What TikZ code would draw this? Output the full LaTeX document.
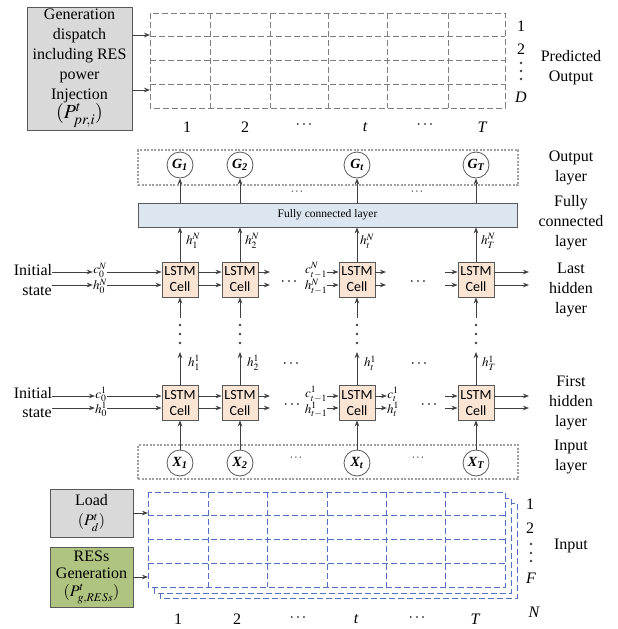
\documentclass[tikz,border=0pt]{standalone}
\usepackage{mathptmx}
\usepackage{fontspec}
\setmainfont{Liberation Serif}
\newfontfamily\cellfont{Carlito}
\usetikzlibrary{arrows.meta}
\definecolor{arrc}{HTML}{404040}
\definecolor{boxc}{HTML}{595959}
\definecolor{grayfill}{HTML}{D9D9D9}
\definecolor{greenfill}{RGB}{176,196,130}
\definecolor{peach}{RGB}{250,228,212}
\definecolor{fcfill}{RGB}{220,230,241}
\definecolor{tgray}{HTML}{7F7F7F}
\definecolor{lgray}{HTML}{A0A0A0}
\definecolor{blu}{RGB}{84,114,196}
\begin{document}
\begin{tikzpicture}[x=1pt,y=-1pt,
  arr/.style={draw=arrc, line width=0.9pt, -{Stealth[length=6pt,width=4.6pt]}},
  txt/.style={font=\fontsize{16}{20}\selectfont, align=center, inner sep=0pt},
  lbl/.style={font=\fontsize{13}{14}\selectfont, inner sep=0pt},
  pair/.style={font=\fontsize{13}{13}\selectfont, inner sep=0pt, align=center},
  small/.style={font=\fontsize{11.5}{13}\selectfont, inner sep=0pt},
  bigdots/.style={font=\fontsize{16}{16}\selectfont, inner sep=0pt},
  cellbox/.style={draw=boxc, fill=peach, line width=0.8pt, minimum width=36pt, minimum height=35pt, inner sep=0pt, align=center, font=\cellfont\fontsize{14}{16}\selectfont},
  circ/.style={circle, draw=boxc, line width=0.8pt, minimum size=26pt, inner sep=0pt, fill=white, font=\fontsize{14}{16}\selectfont\bfseries\itshape},
  layerbox/.style={draw=lgray, line width=1.4pt, dash pattern=on 2pt off 1.5pt, inner sep=0pt},
  topgrid/.style={draw=tgray, line width=0.9pt, dash pattern=on 6pt off 3pt},
  ingrid/.style={draw=blu, line width=0.9pt, dash pattern=on 6pt off 3pt},
  dotc/.style={circle, fill=arrc, inner sep=0pt, minimum size=2.8pt},
  srcbox/.style={draw=boxc, line width=0.9pt, inner sep=0pt, align=center, font=\fontsize{16}{20}\selectfont}
]
\useasboundingbox (0,0) rectangle (618,629);

% ---------- top: predicted output ----------
\node[srcbox, fill=grayfill, minimum width=105pt, minimum height=123pt] (gen) at (79.5,68.5)
  {Generation\\dispatch\\including RES\\power\\Injection\\[-1pt]{\fontsize{20}{20}\selectfont$(P^{t}_{pr,i})$}};
\draw[topgrid] (150,13) rectangle (505,108);
\foreach \y in {36.75,60.5,84.25} \draw[topgrid] (150,\y) -- (505,\y);
\foreach \x in {210,270,328,387,448} \draw[topgrid] (\x,13) -- (\x,108);
\coordinate (pg1) at (150,35);
\coordinate (pg2) at (150,90);
\draw[arr] (gen.east |- pg1) -- (pg1);
\draw[arr] (gen.east |- pg2) -- (pg2);
\node[txt] (tr1) at (521,26) {1};
\node[txt] (tr2) at (521,49) {2};
\node[dotc, minimum size=2.6pt] (td1) at (521,63) {};
\node[dotc, minimum size=2.6pt] (td2) at (521,71) {};
\node[dotc, minimum size=2.6pt] (td3) at (521,79) {};
\node[txt] (trD) at (521,97) {\itshape D};
\node[txt] (lab_pred) at (571,68) {Predicted\\Output};
\node[txt] (tc1) at (187,127) {1};
\node[txt] (tc2) at (245,127) {2};
\node[txt] (tc3) at (304,125) {$\cdots$};
\node[txt] (tc4) at (365,127) {\itshape t};
\node[txt] (tc5) at (425,125) {$\cdots$};
\node[txt] (tc6) at (482,127) {\itshape T};

% ---------- output layer ----------
\node[layerbox, minimum width=380pt, minimum height=35pt] (outl) at (328,167.5) {};
\node[circ] (G1) at (180,165) {G\textsubscript{1}};
\node[circ] (G2) at (240,165) {G\textsubscript{2}};
\node[circ] (Gt) at (357,165) {G\textsubscript{t}};
\node[circ] (GT) at (476,165) {G\textsubscript{T}};
\node[small] (gd1) at (297,192) {$\cdots$};
\node[small] (gd2) at (417,192) {$\cdots$};
\node[txt] (lab_out) at (571,168) {Output\\layer};

% ---------- fully connected ----------
\node[draw=boxc, fill=fcfill, line width=0.8pt, minimum width=379pt, minimum height=24pt, inner sep=0pt,
      font=\fontsize{11.5}{13}\selectfont] (fc) at (327.5,215) {Fully connected layer};
\node[txt] (lab_fc) at (571,223) {Fully\\connected\\layer};
\foreach \g in {G1,G2,Gt,GT} \draw[arr] (\g |- fc.north) -- (\g.south);

% ---------- last hidden layer ----------
\node[cellbox] (L1) at (180,279.5) {LSTM\\Cell};
\node[cellbox] (L2) at (240,279.5) {LSTM\\Cell};
\node[cellbox] (Lt) at (357,279.5) {LSTM\\Cell};
\node[cellbox] (LT) at (476,279.5) {LSTM\\Cell};
\foreach \c in {L1,L2,Lt,LT} \draw[arr] (\c.north) -- (\c |- fc.south);
\node[lbl] (hN1) at (193,241) {$h_1^N$};
\node[lbl] (hN2) at (252,241) {$h_2^N$};
\node[lbl] (hNt) at (367,241) {$h_t^N$};
\node[lbl] (hNT) at (488,241) {$h_T^N$};
\node[txt] (iniN) at (33,270) {Initial};
\node[txt] (stN) at (37,291) {state};
\coordinate (cyN) at (0,272); \coordinate (hyN) at (0,285);
\node[pair] (p0N) at (100,278.5) {$c_0^N$\\$h_0^N$};
\draw[arr] (iniN.east |- cyN) -- (p0N.west |- cyN);
\draw[arr] (stN.east |- hyN) -- (p0N.west |- hyN);
\draw[arr] (p0N.east |- cyN) -- (L1.west |- cyN);
\draw[arr] (p0N.east |- hyN) -- (L1.west |- hyN);
\draw[arr] (L1.east |- cyN) -- (L2.west |- cyN);
\draw[arr] (L1.east |- hyN) -- (L2.west |- hyN);
\coordinate (aN2c) at (270,272); \coordinate (aN2h) at (270,285);
\draw[arr] (L2.east |- aN2c) -- (aN2c);
\draw[arr] (L2.east |- aN2h) -- (aN2h);
\node[bigdots] (ddN1) at (289,282) {$\cdots$};
\node[pair] (ptN) at (316,278.5) {$c_{t-1}^N$\\$h_{t-1}^N$};
\draw[arr] (ptN.east |- cyN) -- (Lt.west |- cyN);
\draw[arr] (ptN.east |- hyN) -- (Lt.west |- hyN);
\coordinate (aNtc) at (386,272); \coordinate (aNth) at (386,285);
\draw[arr] (Lt.east |- aNtc) -- (aNtc);
\draw[arr] (Lt.east |- aNth) -- (aNth);
\node[bigdots] (ddN2) at (418,282) {$\cdots$};
\coordinate (bNc) at (445,272); \coordinate (bNh) at (445,285);
\draw[arr] (bNc) -- (LT.west |- bNc);
\draw[arr] (bNh) -- (LT.west |- bNh);
\coordinate (eNc) at (529,272); \coordinate (eNh) at (529,285);
\draw[arr] (LT.east |- eNc) -- (eNc);
\draw[arr] (LT.east |- eNh) -- (eNh);
\node[txt] (lab_last) at (571,290) {Last\\hidden\\layer};

% ---------- first hidden layer ----------
\node[cellbox] (F1) at (180,402.5) {LSTM\\Cell};
\node[cellbox] (F2) at (240,402.5) {LSTM\\Cell};
\node[cellbox] (Ft) at (357,402.5) {LSTM\\Cell};
\node[cellbox] (FT) at (476,402.5) {LSTM\\Cell};
\foreach \c/\u/\x in {L1/F1/180,L2/F2/240,Lt/Ft/357,LT/FT/476}{
  \coordinate (u\u) at (\x,318);
  \draw[arr] (u\u) -- (\c.south);
  \node[dotc] (d1\u) at (\x,325) {};
  \node[dotc] (d2\u) at (\x,334) {};
  \node[dotc] (d3\u) at (\x,343) {};
  \coordinate (v\u) at (\x,352);
  \draw[arr] (\u.north) -- (v\u);
}
\node[lbl] (h11) at (194,363) {$h_1^1$};
\node[lbl] (h12) at (253,363) {$h_2^1$};
\node[lbl] (h1t) at (370,363) {$h_t^1$};
\node[lbl] (h1T) at (489,363) {$h_T^1$};
\node[bigdots] (hd1) at (291,364) {$\cdots$};
\node[bigdots] (hd2) at (419,364) {$\cdots$};
\node[txt] (ini1) at (33,393) {Initial};
\node[txt] (st1) at (37,413) {state};
\coordinate (cy1) at (0,396); \coordinate (hy1) at (0,408);
\node[pair] (p01) at (101,402) {$c_0^1$\\[-1pt]$h_0^1$};
\draw[arr] (ini1.east |- cy1) -- (p01.west |- cy1);
\draw[arr] (st1.east |- hy1) -- (p01.west |- hy1);
\draw[arr] (p01.east |- cy1) -- (F1.west |- cy1);
\draw[arr] (p01.east |- hy1) -- (F1.west |- hy1);
\draw[arr] (F1.east |- cy1) -- (F2.west |- cy1);
\draw[arr] (F1.east |- hy1) -- (F2.west |- hy1);
\coordinate (a12c) at (270,396); \coordinate (a12h) at (270,408);
\draw[arr] (F2.east |- a12c) -- (a12c);
\draw[arr] (F2.east |- a12h) -- (a12h);
\node[bigdots] (dd11) at (292,405) {$\cdots$};
\node[pair] (pt1) at (316,402) {$c_{t-1}^1$\\[-1pt]$h_{t-1}^1$};
\draw[arr] (pt1.east |- cy1) -- (Ft.west |- cy1);
\draw[arr] (pt1.east |- hy1) -- (Ft.west |- hy1);
\node[pair] (pto1) at (393,402) {$c_t^1$\\[-1pt]$h_t^1$};
\draw[arr] (Ft.east |- cy1) -- (pto1.west |- cy1);
\draw[arr] (Ft.east |- hy1) -- (pto1.west |- hy1);
\node[bigdots] (dd12) at (429,405) {$\cdots$};
\coordinate (b1c) at (445,396); \coordinate (b1h) at (445,408);
\draw[arr] (b1c) -- (FT.west |- b1c);
\draw[arr] (b1h) -- (FT.west |- b1h);
\coordinate (e1c) at (529,396); \coordinate (e1h) at (529,408);
\draw[arr] (FT.east |- e1c) -- (e1c);
\draw[arr] (FT.east |- e1h) -- (e1h);
\node[txt] (lab_first) at (571,403) {First\\hidden\\layer};

% ---------- input layer ----------
\node[layerbox, minimum width=380pt, minimum height=34pt] (inl) at (328,462) {};
\node[circ] (X1) at (180,463) {X\textsubscript{1}};
\node[circ] (X2) at (240,463) {X\textsubscript{2}};
\node[circ] (Xt) at (357,463) {X\textsubscript{t}};
\node[circ] (XT) at (476,463) {X\textsubscript{T}};
\draw[arr] (X1.north) -- (F1.south);
\draw[arr] (X2.north) -- (F2.south);
\draw[arr] (Xt.north) -- (Ft.south);
\draw[arr] (XT.north) -- (FT.south);
\node[small] (xd1) at (296,458) {$\cdots$};
\node[small] (xd2) at (418,458) {$\cdots$};
\node[txt] (lab_in) at (571,457) {Input\\layer};

% ---------- input data ----------
\node[srcbox, fill=grayfill, minimum width=83pt, minimum height=48pt] (load) at (91.5,513)
  {Load\\$(P_d^t)$};
\node[srcbox, fill=greenfill, minimum width=83pt, minimum height=60pt, font=\fontsize{16}{17.5}\selectfont] (res) at (91.5,577)
  {RESs\\Generation\\$(P^t_{g,RESs})$};
\draw[ingrid, fill=white] (160,503) rectangle (517,598);
\draw[ingrid, fill=white] (154,498) rectangle (511,593);
\draw[ingrid, fill=white] (148,492) rectangle (505,587);
\foreach \y in {515.75,539.5,563.25} \draw[ingrid] (148,\y) -- (505,\y);
\foreach \x in {208,267,327,386,445} \draw[ingrid] (\x,492) -- (\x,587);
\coordinate (ig1) at (148,513);
\coordinate (ig2) at (148,577);
\draw[arr] (load.east |- ig1) -- (ig1);
\draw[arr] (res.east |- ig2) -- (ig2);
\node[txt] (ir1) at (530,504) {1};
\node[txt] (ir2) at (530,528) {2};
\node[dotc, minimum size=2.6pt] (id1) at (531,544) {};
\node[dotc, minimum size=2.6pt] (id2) at (531,553) {};
\node[dotc, minimum size=2.6pt] (id3) at (531,561) {};
\node[txt] (irF) at (531,578) {\itshape F};
\node[txt] (irN) at (534,612) {\itshape N};
\node[txt] (lab_input) at (571,546) {Input};
\node[txt] (ic1) at (178,619) {1};
\node[txt] (ic2) at (237,619) {2};
\node[txt] (ic3) at (298,618) {$\cdots$};
\node[txt] (ic4) at (356,619) {\itshape t};
\node[txt] (ic5) at (417,618) {$\cdots$};
\node[txt] (ic6) at (475,619) {\itshape T};
\end{tikzpicture}
\end{document}
